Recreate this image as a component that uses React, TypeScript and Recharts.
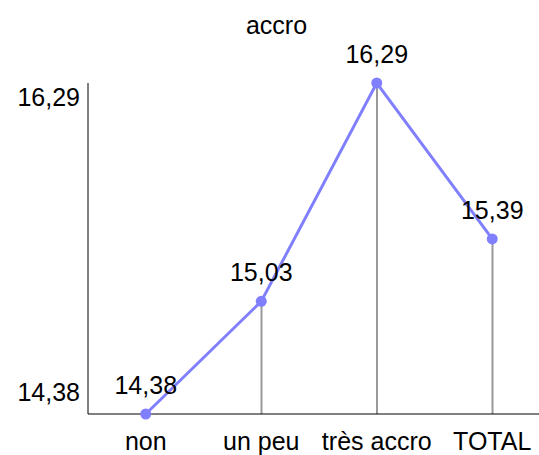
import { ComposedChart, Line, Bar, XAxis, YAxis, LabelList } from 'recharts';

const categories = ['non', 'un peu', 'très accro', 'TOTAL'];
const values = [14.38, 15.03, 16.29, 15.39];
const yTicks = [14.38, 16.29];
const title = 'accro';

const fmt = (v: number) => v.toFixed(2).replace('.', ',');

const chartData = categories.map((name, i) => ({ name, value: values[i] }));

const YTick = (props: any) => {
    const { x, y, payload, index } = props;
    const shift = index === 0 ? -21.5 : 14.5;
    return (
        <text x={x} y={y + shift} dy="0.355em" textAnchor="end" fontSize={25} fill="#000">
            {fmt(payload.value)}
        </text>
    );
};

export default function App() {
    return (
        <div style={{ position: 'absolute', left: 0, top: 0, width: 539, height: 455, overflow: 'hidden', background: '#fff', fontFamily: 'Liberation Sans, Arial, sans-serif' }}>
            <div style={{ position: 'absolute', left: 0, width: 553, top: 13, lineHeight: '24px', textAlign: 'center', fontSize: 25 }}>{title}</div>
            <ComposedChart width={550} height={455} data={chartData} margin={{ top: 83, right: 0, bottom: 0, left: 0 }}>
                <XAxis
                    dataKey="name"
                    height={41}
                    stroke="#000"
                    tickLine={false}
                    tickMargin={12}
                    tick={{ fill: '#000', fontSize: 25 }}
                    interval={0}
                />
                <YAxis
                    width={88}
                    domain={[14.38, 16.29]}
                    ticks={yTicks}
                    stroke="#000"
                    tickLine={false}
                    tick={<YTick />}
                />
                <Bar dataKey="value" barSize={2} fill="#999999" isAnimationActive={false} />
                <Line
                    dataKey="value"
                    stroke="#8080ff"
                    strokeWidth={3}
                    dot={{ r: 5.5, fill: '#8080ff', stroke: '#8080ff', strokeWidth: 0 }}
                    isAnimationActive={false}
                >
                    <LabelList dataKey="value" position="top" offset={20} formatter={(v: any) => fmt(v)} fill="#000" fontSize={25} />
                </Line>
            </ComposedChart>
        </div>
    );
}
